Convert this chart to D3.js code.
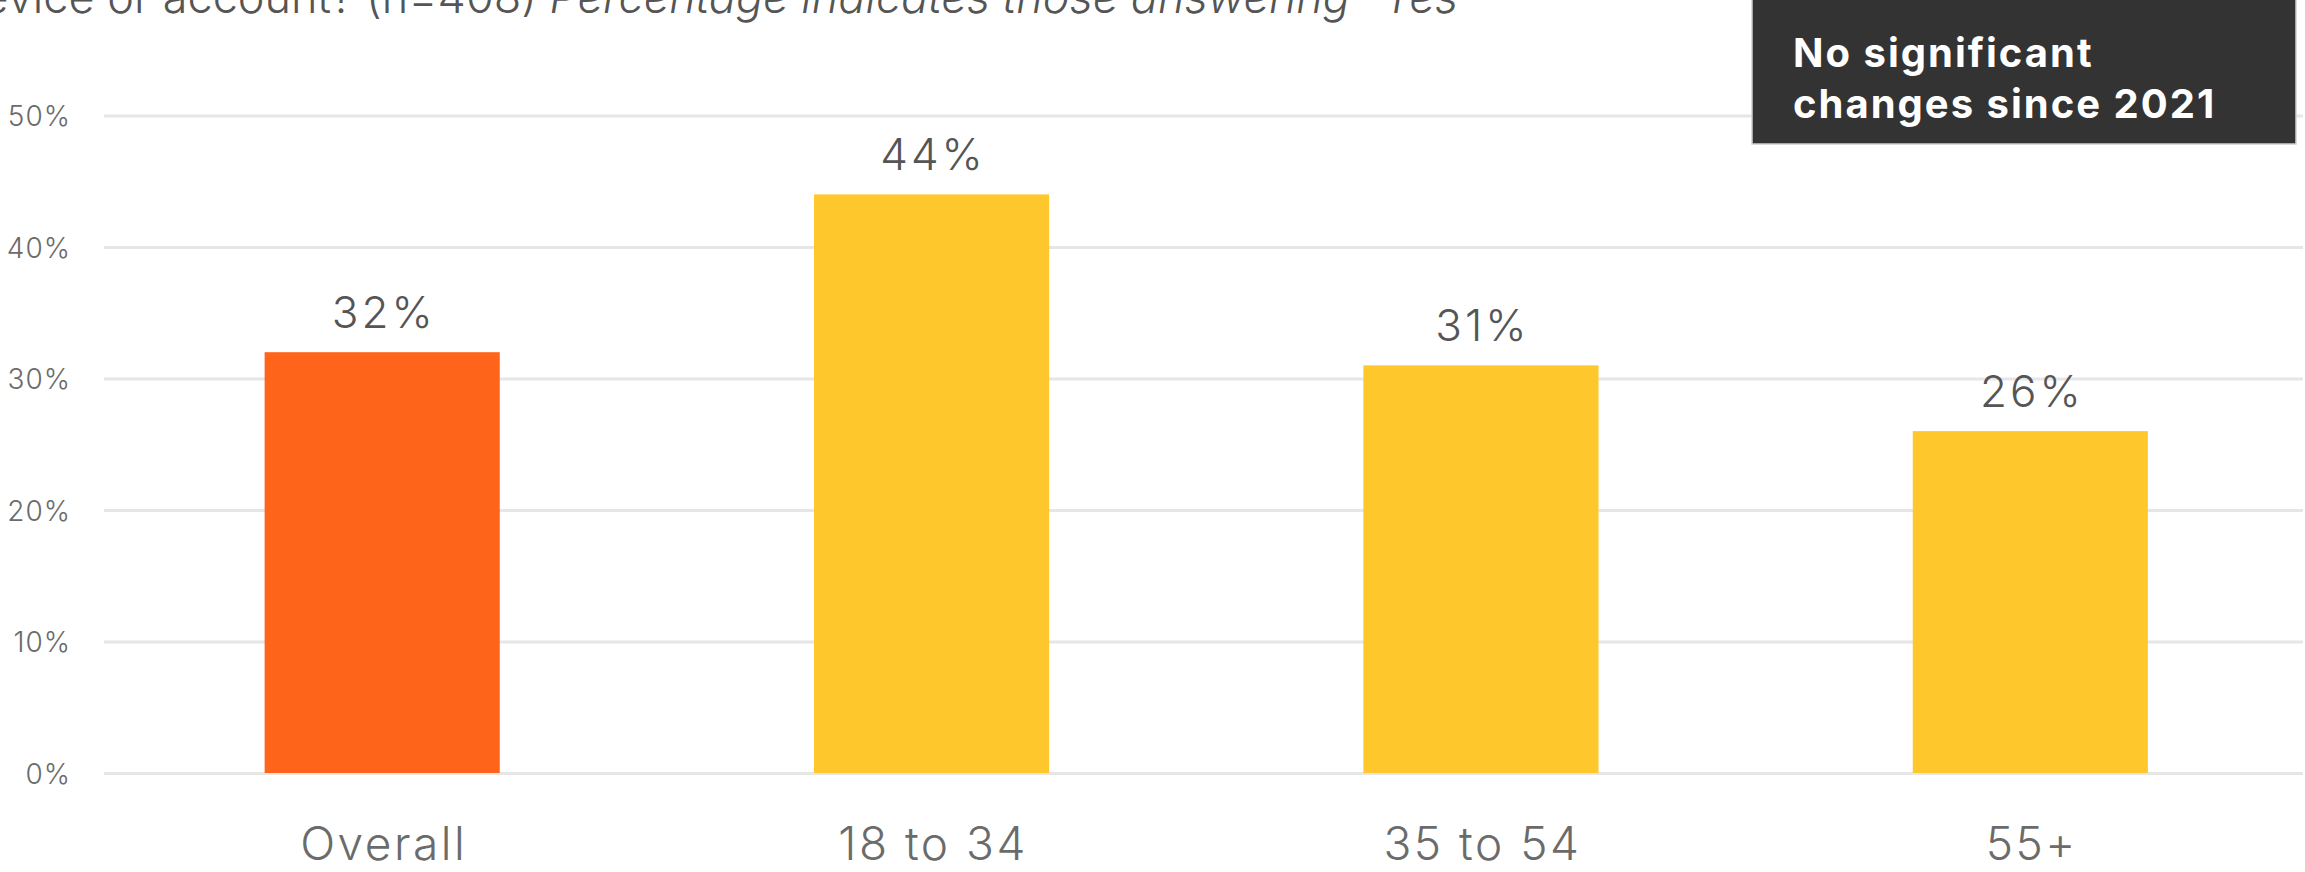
<!DOCTYPE html>
<html><head><meta charset="utf-8">
<script src="https://cdn.jsdelivr.net/npm/d3@7"></script>
<style>body{margin:0;background:#fff} svg{display:block}</style>
</head><body>
<script>
// Chart data
const categories = ["Overall", "18 to 34", "35 to 54", "55+"];
const values = [32, 44, 31, 26];
const barColors = ["#FE641A", "#FEC82C", "#FEC82C", "#FEC82C"];
const yTicks = [0, 10, 20, 30, 40, 50];
const questionText = "device or account? (n=408) ";
const questionNote = "Percentage indicates those answering \u201cYes";
const noteLines = ["No significant", "changes since 2021"];

const W = 2305, H = 872;
const font = "Inter, 'Open Sans', sans-serif";
const svg = d3.select("body").append("svg").attr("width", W).attr("height", H);

const y = d3.scaleLinear().domain([0, 50]).range([773, 115.5]);
const x = d3.scaleBand().domain(categories).range([107.5, 2305])
  .paddingInner(0.572).paddingOuter(0.286);

// Gridlines + y tick labels
const yAxis = svg.append("g").attr("transform", "translate(104,0)")
  .call(d3.axisLeft(y).tickValues(yTicks).tickSize(-(2303 - 104)).tickPadding(33)
    .tickFormat(d => d + "%"));
yAxis.select(".domain").remove();
yAxis.selectAll(".tick line").attr("stroke", "#e6e6e6").attr("stroke-width", 3);
yAxis.selectAll(".tick text").attr("fill", "#6b6b6b").attr("font-family", font)
  .attr("font-weight", 300).attr("font-size", 28).attr("letter-spacing", 1)
  .attr("dy", "0.36em");

// Bars
svg.append("g").selectAll("rect").data(values).join("rect")
  .attr("x", (d, i) => x(categories[i]))
  .attr("width", x.bandwidth())
  .attr("y", d => y(d))
  .attr("height", d => y(0) - y(d))
  .attr("fill", (d, i) => barColors[i]);

// Value labels
svg.append("g").selectAll("text").data(values).join("text")
  .attr("x", (d, i) => x(categories[i]) + x.bandwidth() / 2 + 1.5)
  .attr("y", d => y(d) - 24)
  .attr("text-anchor", "middle")
  .attr("font-family", font).attr("font-weight", 300).attr("font-size", 44)
  .attr("letter-spacing", 3)
  .attr("fill", "#555").text(d => d + "%");

// Category axis
const xAxis = svg.append("g").attr("transform", "translate(0,773)")
  .call(d3.axisBottom(x).tickSize(0).tickPadding(0));
xAxis.select(".domain").remove();
xAxis.selectAll(".tick text").attr("y", 87).attr("dy", 0).attr("dx", 1.5)
  .attr("fill", "#6b6b6b").attr("font-family", font).attr("font-weight", 300)
  .attr("font-size", 46).attr("letter-spacing", 2.5);

// Question line along the top edge
const q = svg.append("text").attr("x", 1458).attr("y", 13).attr("text-anchor", "end")
  .attr("font-family", font).attr("font-weight", 300).attr("font-size", 45).attr("fill", "#555");
q.append("tspan").text(questionText);
q.append("tspan").attr("font-style", "italic").text(questionNote);

// Note box
svg.append("rect").attr("x", 1752).attr("y", -2).attr("width", 544).attr("height", 146)
  .attr("fill", "#333").attr("stroke", "#d0d0d0").attr("stroke-width", 1.5);
svg.append("g").selectAll("text").data(noteLines).join("text")
  .attr("x", 1793).attr("y", (d, i) => 67 + i * 51)
  .attr("font-family", font).attr("font-weight", 700).attr("font-size", 40)
  .attr("letter-spacing", 2)
  .attr("fill", "#fff").text(d => d);
</script>
</body></html>
